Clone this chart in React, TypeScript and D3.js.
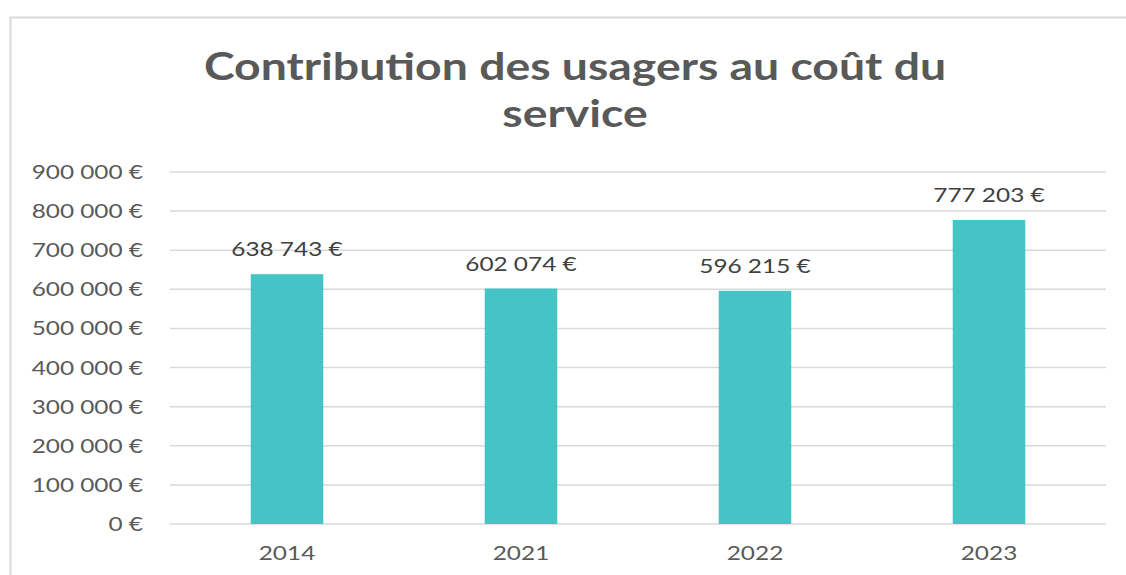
import React from "react";
import * as d3 from "d3";

const categories = ["2014", "2021", "2022", "2023"];
const values = [638743, 602074, 596215, 777203];
const yTicks = [0, 100000, 200000, 300000, 400000, 500000, 600000, 700000, 800000, 900000];
const titleLines = ["Contribution des usagers au coût du", "service"];

const fmt = (v: number) => {
  const s = d3.format(",")(v).replace(/,/g, "\u202F");
  return s + "\u00A0€";
};

const SX = 1.22;
const font = "Lato, 'Open Sans', sans-serif";

function T(props: { x: number; y: number; anchor: string; size: number; fill: string; weight?: number; children: React.ReactNode }) {
  return (
    <text
      transform={`translate(${props.x},${props.y}) scale(${SX},1)`}
      textAnchor={props.anchor}
      fontFamily={font}
      fontSize={props.size}
      fontWeight={props.weight ?? 400}
      fill={props.fill}
    >
      {props.children}
    </text>
  );
}

export default function App() {
  const W = 1126, H = 575;
  const left = 170, right = 1106, top = 172, bottom = 524;
  const x = d3.scaleBand<string>().domain(categories).range([left, right]).paddingInner(0.69).paddingOuter(0.345);
  const y = d3.scaleLinear().domain([0, 900000]).range([bottom, top]);
  const textColor = "#595959";
  return (
    <svg width={W} height={H} style={{ position: "absolute", left: 0, top: 0 }}>
      <rect x={0} y={0} width={W} height={H} fill="#fff" />
      <path d={`M10.5,${H} V17.5 H${W}`} fill="none" stroke="#d9d9d9" strokeWidth={2} />
      {titleLines.map((t, i) => (
        <T key={i} x={575} y={80 + i * 47} anchor="middle" size={38} weight={700} fill={textColor}>{t}</T>
      ))}
      {yTicks.map((t) => (
        <g key={t}>
          <line x1={left} x2={right} y1={y(t)} y2={y(t)} stroke="#d9d9d9" strokeWidth={1.5} />
          <T x={143} y={y(t) + 7} anchor="end" size={20} fill={textColor}>{fmt(t)}</T>
        </g>
      ))}
      {categories.map((c, i) => (
        <g key={c}>
          <rect x={x(c)!} y={y(values[i])} width={x.bandwidth()} height={bottom - y(values[i])} fill="#44c4c4" />
          <T x={x(c)! + x.bandwidth() / 2} y={y(values[i]) - 18} anchor="middle" size={20} fill="#404040">{fmt(values[i])}</T>
          <T x={x(c)! + x.bandwidth() / 2} y={560} anchor="middle" size={20} fill={textColor}>{c}</T>
        </g>
      ))}
    </svg>
  );
}
